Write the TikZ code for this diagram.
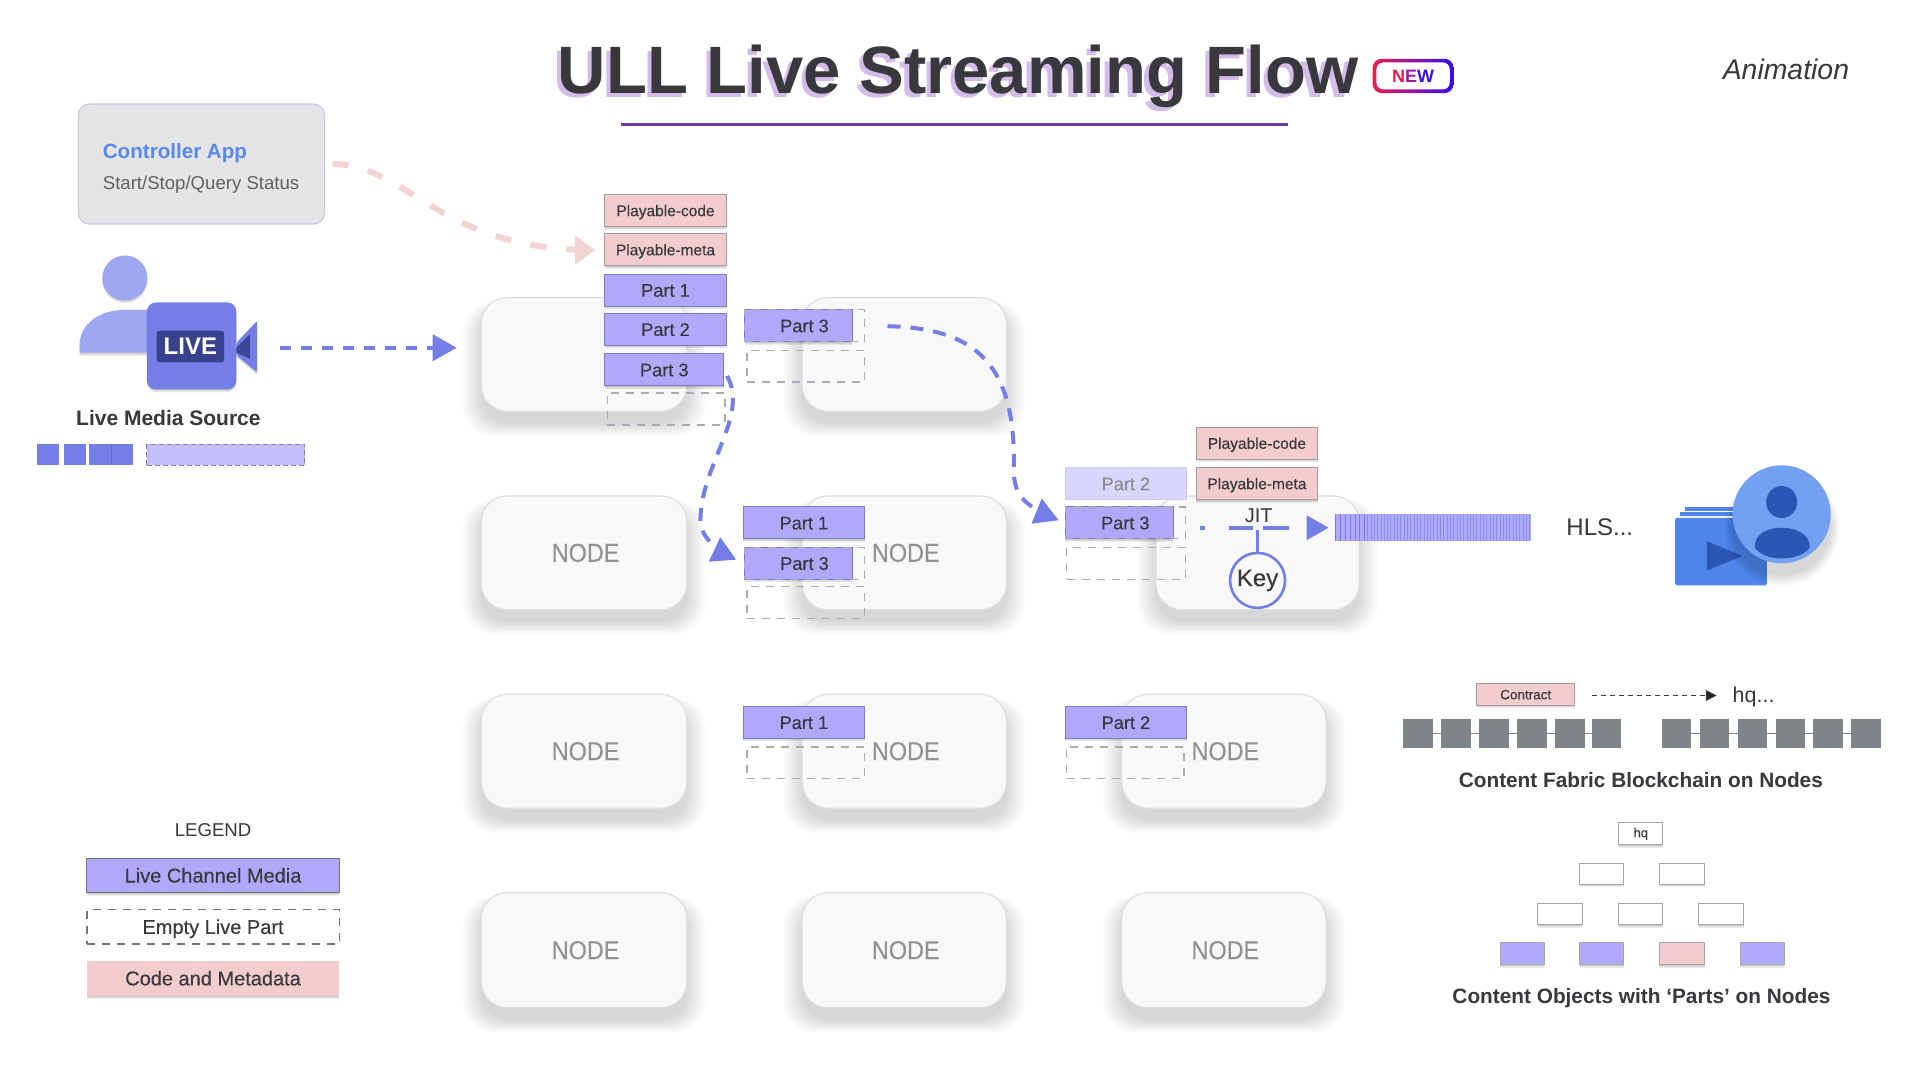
\documentclass[tikz,border=0pt]{standalone}
\usepackage{fontspec}
\setmainfont{Liberation Sans}
\newfontfamily\mediumf[FakeBold=0.25]{Liberation Sans}
\newfontfamily\narrowf[FakeStretch=0.9,FakeBold=0.15]{Liberation Sans}
\usetikzlibrary{arrows.meta,bending,shadows,calc,shapes.geometric}
\definecolor{partfill}{HTML}{B0A8FA}
\definecolor{partline}{HTML}{7F7AC4}
\definecolor{pinkfill}{HTML}{F3CDCD}
\definecolor{pinkline}{HTML}{A99A9F}
\definecolor{flowblue}{HTML}{747EE6}
\definecolor{flowpink}{HTML}{F3D3D3}
\definecolor{dashgray}{HTML}{A9A9B8}
\definecolor{txt}{HTML}{38383D}
\definecolor{nodegray}{HTML}{929292}
\definecolor{nodefill}{HTML}{F8F8F8}
\definecolor{nodeline}{HTML}{DEDEDE}
\definecolor{bluemain}{HTML}{4F86EC}
\definecolor{bluelight}{HTML}{74A0F2}
\definecolor{bluedark}{HTML}{2C56B4}
\definecolor{chaingray}{HTML}{7F8488}
\definecolor{titleshade}{HTML}{D4BCE8}
\definecolor{newred}{HTML}{E8204C}
\definecolor{newblue}{HTML}{340CF0}
\definecolor{rulepurple}{HTML}{6B3FA0}
\definecolor{ctrlline}{HTML}{C5CAE8}
\definecolor{ctrlblue}{HTML}{5688F0}
\definecolor{personblue}{HTML}{9EA8F0}
\definecolor{lensdark}{HTML}{3C4696}
\definecolor{tagdark}{HTML}{38428C}
\definecolor{srclight}{HTML}{C4BEFB}
\definecolor{srcline}{HTML}{5F69CD}
\definecolor{fadefill}{HTML}{D9D6FD}
\definecolor{fadeline}{HTML}{CDCCEB}
\newcommand\fsz[1]{\fontsize{#1}{#1}\selectfont}
\newcommand\nlab{\raisebox{-3pt}{\hspace*{3pt}NODE}}
% \bx{name}{x1}{y1}{x2}{y2}{style}{text}
\newcommand\bx[7]{%
  \pgfmathsetmacro\bxw{(#4-#2)*1.22449}%
  \pgfmathsetmacro\bxh{(#5-#3)*1.22449}%
  \node[#6,minimum width=\bxw pt,minimum height=\bxh pt] (#1) at ({(#2+#4)/2},{(#3+#5)/2}) {#7};}
\tikzset{
  softlayer/.style={drop shadow={shadow xshift=0pt,shadow yshift=-12pt,shadow scale=#1,fill=black,draw=none,opacity=.015}},
  softshadow/.style={softlayer=1.0,softlayer=1.02,softlayer=1.04,softlayer=1.06,softlayer=1.08,softlayer=1.1,softlayer=1.12,softlayer=1.14,softlayer=1.16,softlayer=1.18},
  tinylayer/.style={drop shadow={shadow xshift=0pt,shadow yshift=#1,fill=black,draw=none,opacity=.07}},
  tinyshadow/.style={tinylayer=-1pt,tinylayer=-2pt,tinylayer=-3pt},
  anybox/.style={rectangle,inner sep=0pt,outer sep=0pt},
  nodebox/.style={anybox,rounded corners=26pt,fill=nodefill,draw=nodeline,line width=1.2pt,softshadow,text=nodegray,font=\narrowf\fsz{26}},
  partbox/.style={anybox,fill=partfill,draw=partline,line width=1pt,text=txt,font=\mediumf\fsz{18.2},text height=13pt,text depth=0pt,tinyshadow},
  pinkbox/.style={anybox,fill=pinkfill,draw=pinkline,line width=1pt,text=txt,font=\mediumf\fsz{15.5},text height=11pt,text depth=0pt,tinyshadow},
  emptybox/.style={anybox,draw=dashgray,line width=1.2pt,dash pattern=on 8pt off 7pt,text=txt,font=\mediumf\fsz{18.2},text height=13pt,text depth=0pt},
  plainfill/.style={anybox,fill=partfill,draw=partline,line width=1pt,tinyshadow},
  treebox/.style={anybox,fill=white,draw=gray!70,line width=1pt,tinyshadow,font=\mediumf\fsz{13},text=txt},
  chainbox/.style={anybox,fill=chaingray},
  chainlink/.style={draw=chaingray,line width=1pt},
  blueflow/.style={draw=flowblue,line width=4pt,dash pattern=on 13pt off 10pt},
  pinkflow/.style={draw=flowpink,line width=6pt,dash pattern=on 16pt off 20pt},
  caption/.style={font=\bfseries\fsz{20.8},text=txt},
  bluehead/.style={-{Triangle[length=24pt,width=26pt,fill=flowblue,flex=0]}},
}
\begin{document}
\begin{tikzpicture}[x=1.22449pt,y=-1.22449pt]
\useasboundingbox[fill=white] (0,0) rectangle (1568,882);

% title
\node[anybox,font=\bfseries\fsz{67},text=titleshade,anchor=base] (titleshadow) at (779,79.5) {ULL Live Streaming Flow};
\node[anybox,font=\bfseries\fsz{67},text=txt,anchor=base] (title) at (782.5,76.5) {ULL Live Streaming Flow};
\bx{newouter}{1121}{48}{1187}{76}{anybox,rounded corners=9pt,left color=newred,right color=newblue}{}
\bx{newtag}{1124}{51}{1184}{73}{anybox,rounded corners=7pt,fill=white,font=\bfseries\fsz{18}}{{\color[HTML]{E0204E}N}{\color[HTML]{A018A8}E}{\color[HTML]{3C10EE}W}}
\bx{rule}{507}{100.5}{1052}{102.5}{anybox,fill=rulepurple}{}
\node[anybox,font=\itshape\fsz{28.4},text=txt] (anim) at (1458.5,57) {Animation};

% controller
\bx{ctrl}{64}{85}{265}{183}{anybox,rounded corners=11pt,fill=black!10,draw=ctrlline,line width=1.2pt}{}
\node[anybox,anchor=west,font=\bfseries\fsz{20.6},text=ctrlblue] (ctrltitle) at (84,125) {Controller App};
\node[anybox,anchor=west,font=\fsz{18.6},text=black!62] (ctrlsub) at (84,150.5) {Start/Stop/Query Status};

% live source icon
\node[circle,fill=personblue,minimum size=45pt,inner sep=0pt,tinyshadow] (head) at (102,227) {};
\fill[personblue,tinyshadow] (65,288) -- (65,282) .. controls (65,264) and (82,253) .. (102,253) -- (126,253) -- (126,288) -- cycle;
\bx{cam}{120}{247}{193}{318}{anybox,rounded corners=9pt,fill=flowblue,tinyshadow}{}
\fill[flowblue,rounded corners=2pt,tinyshadow] (193,280) -- (210,262) -- (210,304) -- (193,290) -- cycle;
\fill[lensdark] (193,284) -- (204,273) -- (204,293) -- (193,288) -- cycle;
\bx{livetag}{128}{270}{183}{296}{anybox,rounded corners=3pt,fill=tagdark,text=white,font=\bfseries\fsz{24}}{LIVE}
\node[caption,font=\bfseries\fsz{21}] (srccap) at (137.5,341.5) {Live Media Source};
\bx{sq1}{30}{363}{48}{380}{anybox,fill=flowblue}{}
\bx{sq2}{52}{363}{70}{380}{anybox,fill=flowblue}{}
\bx{sq3}{73}{363}{91}{380}{anybox,fill=flowblue}{}
\bx{sq4}{91}{363}{109}{380}{anybox,fill=flowblue}{}
\draw[srcline,line width=.7pt] (sq3.north east) -- (sq3.south east);
\bx{srcdash}{120}{363}{249}{380}{anybox,fill=srclight,draw=partline,line width=1pt,dash pattern=on 5pt off 3pt}{}

% nodes grid
\bx{n11}{393}{243}{561}{336}{nodebox}{}
\bx{n12}{655}{243}{822}{336}{nodebox}{}
\bx{n21}{393}{405}{561}{498}{nodebox}{\nlab}
\bx{n22}{655}{405}{822}{498}{nodebox}{\nlab}
\bx{n23}{944}{405}{1110}{498}{nodebox}{}
\bx{n31}{393}{567}{561}{660}{nodebox}{\nlab}
\bx{n32}{655}{567}{822}{660}{nodebox}{\nlab}
\bx{n33}{916}{567}{1083}{660}{nodebox}{\nlab}
\bx{n41}{393}{729}{561}{823}{nodebox}{\nlab}
\bx{n42}{655}{729}{822}{823}{nodebox}{\nlab}
\bx{n43}{916}{729}{1083}{823}{nodebox}{\nlab}

% column A
\bx{acode}{494}{159}{593}{185}{pinkbox}{Playable-code}
\bx{ameta}{494}{191}{593}{217}{pinkbox}{Playable-meta}
\bx{ap1}{494}{224}{593}{250}{partbox}{Part 1}
\bx{ap2}{494}{256}{593}{282}{partbox}{Part 2}
\bx{ap3}{494}{289}{591}{315}{partbox}{Part 3}
\bx{aempty}{496}{321}{592}{347}{emptybox}{}

% column B row 1
\bx{b1fill}{608}{253}{696}{279}{plainfill}{}
\bx{b1p3}{608}{253}{706}{279}{emptybox}{Part 3}
\bx{b1empty}{610}{286}{706}{312}{emptybox}{}

% column B row 2
\bx{b2p1}{607}{414}{706}{440}{partbox}{Part 1}
\bx{b2fill}{608}{447}{696}{473}{plainfill}{}
\bx{b2p3}{608}{447}{706}{473}{emptybox}{Part 3}
\bx{b2empty}{610}{479}{706}{505}{emptybox}{}

% row 3 parts
\bx{b3p1}{607}{577}{706}{603}{partbox}{Part 1}
\bx{b3empty}{610}{610}{706}{636}{emptybox}{}
\bx{c3p2}{870}{577}{969}{603}{partbox}{Part 2}
\bx{c3empty}{871}{610}{967}{636}{emptybox}{}

% JIT node parts
\bx{dp2}{870}{382}{969}{408}{anybox,fill=fadefill,draw=fadeline,line width=1pt,text=black!45,font=\mediumf\fsz{18.2},text height=13pt,text depth=0pt}{Part 2}
\bx{dfill}{870}{414}{958}{440}{plainfill}{}
\bx{dp3}{870}{414}{968}{440}{emptybox}{Part 3}
\bx{dempty}{871}{447}{968}{473}{emptybox}{}
\bx{dcode}{977}{349}{1076}{375}{pinkbox}{Playable-code}
\bx{dmeta}{977}{382}{1076}{408}{pinkbox}{Playable-meta}
\node[anybox,font=\fsz{20},text=txt] (jit) at (1028,421) {JIT};
\node[circle,draw=flowblue,line width=2.6pt,fill=nodefill,minimum size=55pt,inner sep=0pt,font=\mediumf\fsz{24},text=txt] (key) at (1027,474) {\raisebox{-1.5pt}{Key}};
\coordinate (jitdrop) at (1027,433);
\draw[draw=flowblue,line width=3pt] (jitdrop) -- (key.north);

% stripes
\bx{stream}{1090}{420}{1250}{442}{anybox,fill=partfill}{}
\foreach \sx in {1091,1095,1099,1103,1107,1110.5,1114} {\draw[flowblue,line width=1pt] (\sx,420) -- (\sx,442);}
\foreach \sx in {1117,1119.7,...,1250} {\draw[flowblue!85,line width=.9pt] (\sx,420) -- (\sx,442);}
\node[anybox,font=\fsz{24},text=txt] (hls) at (1306.5,430.5) {HLS...};

% viewer icon
\fill[bluemain] (1376,414) rectangle (1443,430);
\fill[white] (1372,417) rectangle (1443,418.5);
\fill[bluemain] (1372,418.5) rectangle (1443,430);
\fill[white] (1370,421.5) rectangle (1443,423);
\bx{folder}{1368}{423}{1443}{478}{anybox,rounded corners=2pt,fill=bluemain}{}
\fill[bluedark] (1394,442) -- (1423,454) -- (1394,466) -- cycle;
\node[circle,fill=bluelight,minimum size=98pt,inner sep=0pt,softshadow] (viewer) at (1455,420) {};
\node[ellipse,fill=bluedark,minimum width=31pt,minimum height=32pt,inner sep=0pt] (vhead) at (1455,410) {};
\fill[bluedark] (1433,447) .. controls (1433,436) and (1443,431) .. (1455,431) .. controls (1467,431) and (1478,436) .. (1478,447) .. controls (1474,453) and (1465,456) .. (1455,456) .. controls (1445,456) and (1437,453) .. (1433,447) -- cycle;

% flows
\draw[pinkflow,shorten <=8pt,shorten >=10pt,-{Triangle[length=20pt,width=28pt,fill=flowpink,flex=0]}] (ctrl.east) .. controls (335,134) and (360,208) .. (ameta.west);
\coordinate (livestart) at (229,284);
\coordinate (liveend) at (373,284);
\draw[blueflow,line width=3.6pt,dash pattern=on 11pt off 10pt,bluehead] (livestart) -- (liveend);
\coordinate (abend) at (572,425);
\draw[blueflow,shorten <=7pt,shorten >=9pt,bluehead] (ap3.east) .. controls (612,340) and (572,380) .. (abend) .. controls (572,440) and (588,452) .. (b2p3.west);
\coordinate (bbend) at (828,385);
\draw[blueflow,shorten <=23pt,shorten >=7pt,bluehead] (b1p3.east) .. controls (800,268) and (830,300) .. (bbend) .. controls (828,408) and (842,416) .. (dp3.west);
\coordinate (jitstart) at (980,431);
\coordinate (jitend) at (1085,431);
\draw[blueflow,line width=3.6pt,dash pattern=on 5pt off 24pt on 24pt off 10pt on 26pt off 40pt,-{Triangle[length=22pt,width=24pt,fill=flowblue,flex=0]}] (jitstart) -- (jitend);

% blockchain
\foreach \i/\a in {1/1146,2/1177,3/1208,4/1239,5/1270,6/1300,7/1357,8/1388,9/1419,10/1450,11/1481,12/1512}{
  \pgfmathsetmacro\ae{\a+24}
  \bx{ch\i}{\a}{587}{\ae}{611}{chainbox}{}
}
\foreach \p/\q in {ch1/ch2,ch2/ch3,ch3/ch4,ch4/ch5,ch5/ch6,ch7/ch8,ch8/ch9,ch9/ch10,ch10/ch11,ch11/ch12}{
  \draw[chainlink] (\p) -- (\q);
}
\bx{contract}{1206}{558}{1286}{576}{pinkbox,font=\mediumf\fsz{13.5},text height=10pt}{Contract}
\node[anybox,font=\fsz{21.5},text=txt,anchor=west] (hq) at (1415,569) {hq...};
\coordinate (hqstart) at (1300,568);
\coordinate (hqend) at (1402,568);
\draw[black!75,line width=1pt,dash pattern=on 5pt off 4pt,-{Triangle[length=11pt,width=11pt,fill=black!85,flex=0]}] (hqstart) -- (hqend);
\node[caption] (fabcap) at (1340,637) {Content Fabric Blockchain on Nodes};

% tree
\bx{t0}{1322}{672}{1358}{690}{treebox}{hq}
\bx{t11}{1290}{705}{1326}{722}{treebox}{}
\bx{t12}{1355}{705}{1392}{722}{treebox}{}
\bx{t21}{1256}{738}{1292}{755}{treebox}{}
\bx{t22}{1322}{738}{1358}{755}{treebox}{}
\bx{t23}{1387}{738}{1424}{755}{treebox}{}
\bx{t31}{1225}{770}{1261}{788}{plainfill,draw=gray!70}{}
\bx{t32}{1290}{770}{1326}{788}{plainfill,draw=gray!70}{}
\bx{t33}{1355}{770}{1392}{788}{pinkbox,draw=gray!70}{}
\bx{t34}{1421}{770}{1457}{788}{plainfill,draw=gray!70}{}
\node[caption] (objcap) at (1340.5,815) {Content Objects with ‘Parts’ on Nodes};

% legend
\node[anybox,font=\fsz{18.6},text=txt] (legend) at (174,678) {LEGEND};
\bx{lg1}{71}{701}{277}{729}{partbox,font=\mediumf\fsz{20},text height=14pt,draw=black!55}{Live Channel Media}
\bx{lg2}{71}{743}{277}{771}{emptybox,draw=black!55,font=\mediumf\fsz{20},text height=14pt}{Empty Live Part}
\bx{lg3}{71}{785}{277}{813}{pinkbox,draw=none,font=\mediumf\fsz{20},text height=14pt}{Code and Metadata}
\end{tikzpicture}
\end{document}
